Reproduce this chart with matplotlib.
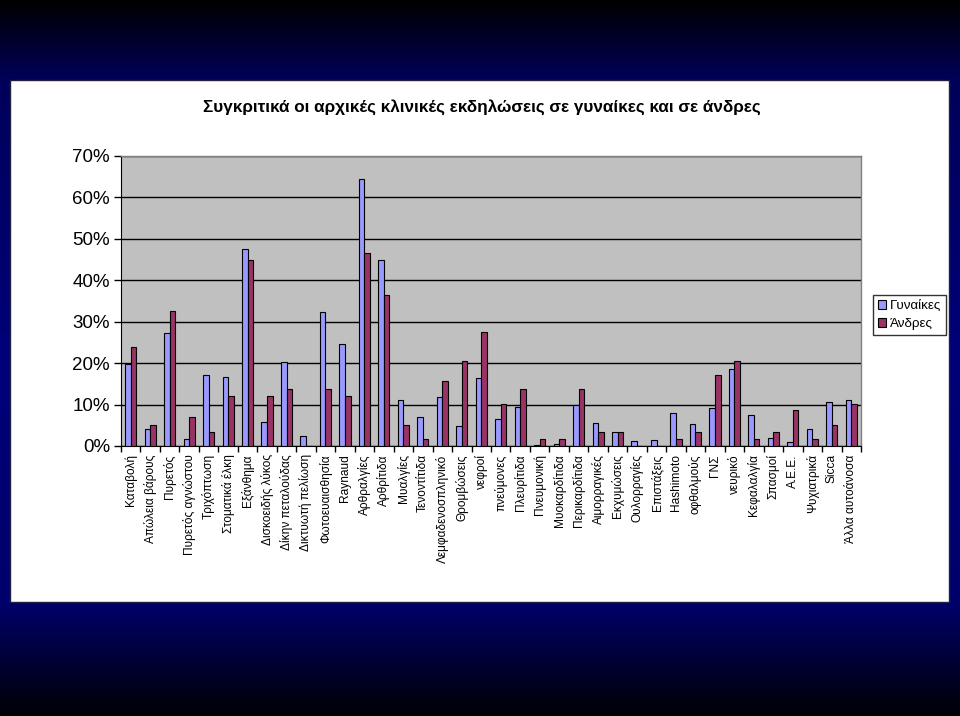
import numpy as np
import matplotlib
matplotlib.use("Agg")
import matplotlib.pyplot as plt
from matplotlib.colors import LinearSegmentedColormap
from matplotlib.patches import Rectangle
from matplotlib.ticker import FuncFormatter

plt.rcParams['font.family'] = ['Liberation Sans', 'DejaVu Sans']

title = "Συγκριτικά οι αρχικές κλινικές εκδηλώσεις σε γυναίκες και σε άνδρες"
categories = [
    "Καταβολή", "Απώλεια βάρους", "Πυρετός", "Πυρετός αγνώστου", "Τριχόπτωση",
    "Στοματικά έλκη", "Εξάνθημα", "Δισκοειδής λύκος", "Δίκην πεταλούδας",
    "Δικτυωτή πελίωση", "Φωτοευαισθησία", "Raynaud", "Αρθραλγίες", "Αρθρίτιδα",
    "Μυαλγίες", "Τενοντίτιδα", "Λεμφαδενοσπληνικό", "Θρομβώσεις", "νεφροί",
    "πνεύμονες", "Πλευρίτιδα", "Πνευμονική", "Μυοκαρδίτιδα", "Περικαρδίτιδα",
    "Αιμορραγικές", "Εκχυμώσεις", "Ουλορραγίες", "Επιστάξεις", "Hashimoto",
    "οφθαλμούς", "ΓΝΣ", "νευρικό", "Κεφαλαλγία", "Σπασμοί", "Α.Ε.Ε.",
    "Ψυχιατρικά", "Sicca", "Άλλα αυτοάνοσα",
]
women = [19.7, 4.0, 27.3, 1.7, 17.1, 16.6, 47.6, 5.8, 20.2, 2.3, 32.3, 24.6,
         64.4, 44.8, 11.0, 6.9, 11.8, 4.8, 16.4, 6.4, 9.3, 0.2, 0.6, 9.8,
         5.6, 3.5, 1.3, 1.5, 7.9, 5.3, 9.2, 18.6, 7.6, 2.0, 1.0, 4.0, 10.6, 11.2]
men = [24.0, 5.1, 32.7, 6.9, 3.3, 12.0, 44.8, 12.0, 13.8, 0.0, 13.8, 12.0,
       46.5, 36.4, 5.1, 1.8, 15.6, 20.6, 27.6, 10.2, 13.8, 1.8, 1.8, 13.8,
       3.3, 3.3, 0.0, 0.0, 1.8, 3.3, 17.1, 20.6, 1.8, 3.3, 8.6, 1.8, 5.1, 10.2]
series_names = ["Γυναίκες", "Άνδρες"]
yticks = [0, 10, 20, 30, 40, 50, 60, 70]

W, H = 960, 716
fig = plt.figure(figsize=(W / 100, H / 100), dpi=100)

# Background gradient (slide)
bg = fig.add_axes([0, 0, 1, 1], zorder=-10)
cmap = LinearSegmentedColormap.from_list(
    "bgc", [(0.0, "#000000"), (0.11, "#00005a"), (0.5, "#00007a"),
            (0.84, "#00006c"), (1.0, "#000005")])
grad = np.linspace(0, 1, 256).reshape(-1, 1)
bg.imshow(grad, aspect="auto", cmap=cmap, extent=[0, 1, 1, 0])
bg.set_xlim(0, 1)
bg.set_ylim(1, 0)
bg.axis("off")

# White chart panel
fig.patches.append(Rectangle((10 / W, 1 - 602 / H), (949 - 10) / W, (602 - 80) / H,
                             transform=fig.transFigure, facecolor="white",
                             edgecolor="#202040", linewidth=1.0, zorder=-5))

ax = fig.add_axes([121 / W, 1 - 446 / H, (861 - 121) / W, (446 - 156) / H])
ax.set_facecolor("#c0c0c0")

n = len(categories)
x = np.arange(n)
bw = 0.286
b1 = ax.bar(x - bw / 2, women, bw, color="#9999ff", edgecolor="black",
            linewidth=0.8, label=series_names[0], zorder=3)
b2 = ax.bar(x + bw / 2, men, bw, color="#993366", edgecolor="black",
            linewidth=0.8, label=series_names[1], zorder=3)

ax.set_xlim(-0.5, n - 0.5)
ax.set_ylim(0, 70)
ax.set_yticks(yticks)
ax.yaxis.set_major_formatter(FuncFormatter(lambda v, p: f"{int(v)}%"))
ax.grid(axis="y", color="black", linewidth=1.0, zorder=1)
ax.tick_params(axis="y", direction="out", length=5, width=1, labelsize=13.5, pad=3)

ax.set_xticks(x)
ax.set_xticklabels(categories, rotation=90, fontsize=8.6, va="top", ha="center")
ax.tick_params(axis="x", which="major", length=0, pad=6)
ax.set_xticks(np.arange(-0.5, n, 1), minor=True)
ax.tick_params(axis="x", which="minor", direction="out", length=4, width=1)

for s in ["top", "right"]:
    ax.spines[s].set_color("#808080")
    ax.spines[s].set_linewidth(1.0)
ax.spines["left"].set_color("black")
ax.spines["bottom"].set_color("black")

fig.text(0.502, 1 - 107 / H, title, ha="center", va="center",
         fontsize=12.3, fontweight="bold")

leg = fig.legend(handles=[b1, b2], labels=series_names, loc="upper left",
                 bbox_to_anchor=(873 / W, 1 - 295 / H), frameon=True,
                 fancybox=False, edgecolor="black", fontsize=9.6,
                 handlelength=0.65, handleheight=0.65, handletextpad=0.3,
                 borderpad=0.35, labelspacing=0.45, borderaxespad=0)
leg.get_frame().set_linewidth(1.0)

fig.savefig("out.png", dpi=100)
